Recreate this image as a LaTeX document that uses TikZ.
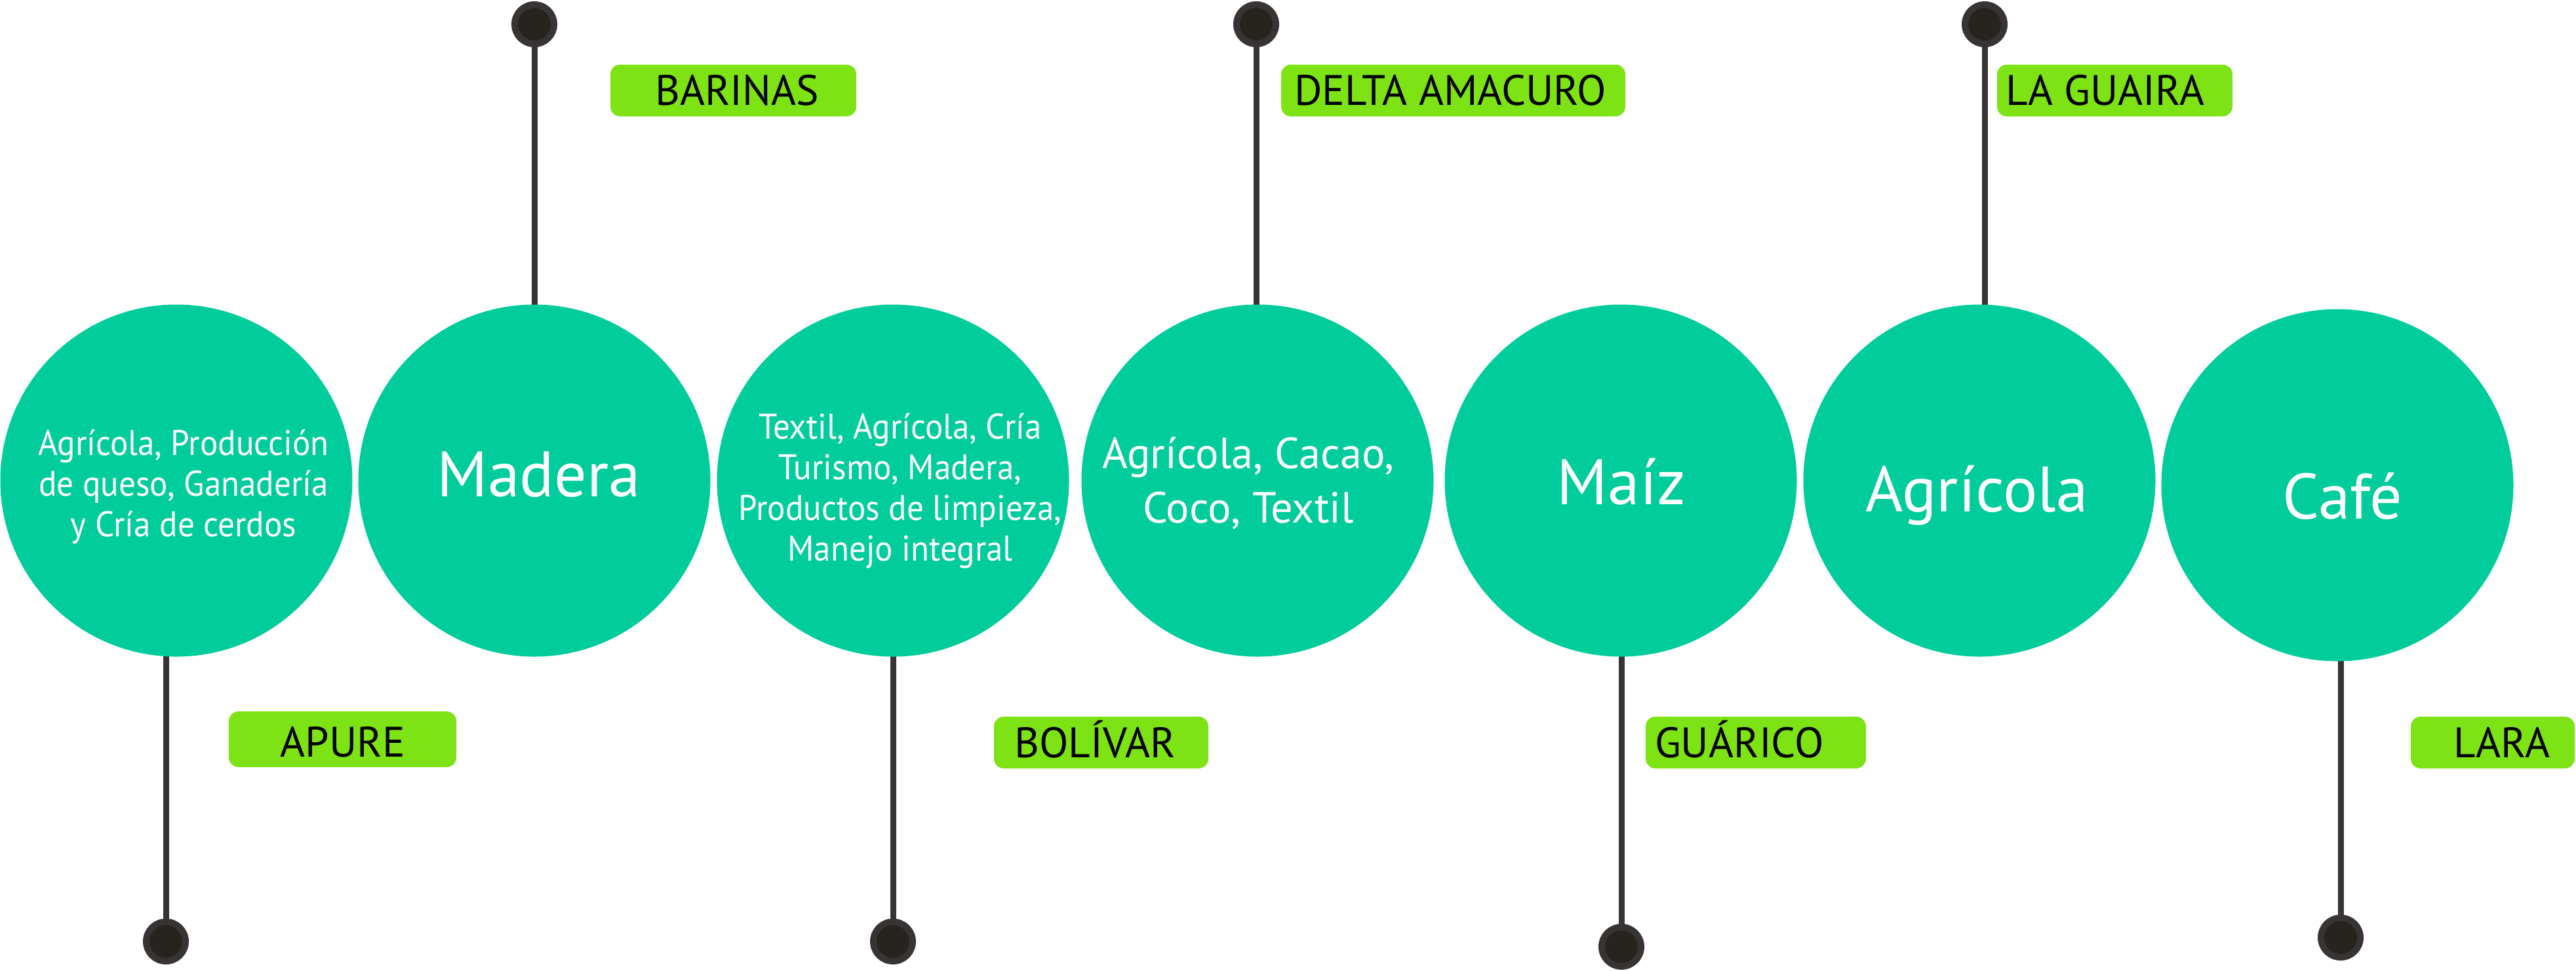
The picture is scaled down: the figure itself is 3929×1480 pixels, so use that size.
\documentclass[tikz,border=0pt]{standalone}
\usepackage{fontspec}
\setmainfont{PT Sans}
\newfontfamily\narrowpt[FakeStretch=0.94]{PT Sans}
\usetikzlibrary{backgrounds}
\definecolor{teal1}{HTML}{00CC9C}
\definecolor{lime1}{HTML}{7DE315}
\definecolor{ring1}{HTML}{383434}
\definecolor{core1}{HTML}{26241F}
\begin{document}
\begin{tikzpicture}[x=0.25pt,y=-0.25pt,
  bubble/.style={circle,fill=teal1,minimum size=134.25pt,inner sep=0pt,outer sep=0pt},
  pin/.style={circle,fill=core1,draw=ring1,line width=2.5pt,minimum size=15pt,inner sep=0pt},
  conn/.style={draw=ring1,line width=2.25pt},
  tagbox/.style={fill=lime1,rounded corners=3.75pt,minimum height=19.75pt,inner sep=0pt},
  tagtext/.style={text=black,font=\fontsize{16.25}{19}\selectfont,text height=11.4pt,text depth=0pt,inner sep=0pt},
  small/.style={text=white,align=center,font=\narrowpt\fontsize{13.6}{15.5}\selectfont,inner sep=0pt},
  medium/.style={text=white,align=center,font=\fontsize{16.6}{20.75}\selectfont,inner sep=0pt},
  big/.style={text=white,font=\fontsize{24.5}{29}\selectfont,inner sep=0pt,anchor=base},
]
\useasboundingbox (0,0) rectangle (3929,1480);
% bubbles
\node[bubble] (c1) at (269,733) {};
\node[bubble] (c2) at (815,733) {};
\node[bubble] (c3) at (1362,733) {};
\node[bubble] (c4) at (1918,733) {};
\node[bubble] (c5) at (2472,733) {};
\node[bubble] (c6) at (3019,733) {};
\node[bubble] (c7) at (3565,740) {};
% pins
\node[pin] (d1) at (253,1436) {};
\node[pin] (d2) at (815,37) {};
\node[pin] (d3) at (1362,1436) {};
\node[pin] (d4) at (1916,37) {};
\node[pin] (d5) at (2473,1444) {};
\node[pin] (d6) at (3027,37) {};
\node[pin] (d7) at (3570,1430) {};
% connectors
\begin{scope}[on background layer]
\draw[conn] (d1.center) -- (d1 |- c1.center);
\draw[conn] (d2.center) -- (d2 |- c2.center);
\draw[conn] (d3.center) -- (d3 |- c3.center);
\draw[conn] (d4.center) -- (d4 |- c4.center);
\draw[conn] (d5.center) -- (d5 |- c5.center);
\draw[conn] (d6.center) -- (d6 |- c6.center);
\draw[conn] (d7.center) -- (d7 |- c7.center);
\end{scope}
% bubble texts
\node[small] (t1) at (280,742) {Agrícola, Producción\\de queso, Ganadería\\y Cría de cerdos};
\node[big] (t2) at (822,757) {Madera};
\node[small] (t3) at (1373,749) {Textil, Agrícola, Cría\\Turismo, Madera,\\Productos de limpieza,\\Manejo integral};
\node[medium] (t4) at (1904,737) {Agrícola, Cacao,\\Coco, Textil};
\node[big] (t5) at (2473,769) {Maíz};
\node[big] (t6) at (3015,780) {Agrícola};
\node[big] (t7) at (3573,791) {Café};
% tags
\node[tagbox,minimum width=86.75pt,minimum height=21.25pt] (b1) at (522.5,1127.5) {};
\node[tagtext] (l1) at (523,1132) {APURE};
\node[tagbox,minimum width=93.75pt] (b2) at (1118.5,138) {};
\node[tagtext] (l2) at (1124,138) {BARINAS};
\node[tagbox,minimum width=81.75pt] (b3) at (1679.5,1132.5) {};
\node[tagtext] (l3) at (1670,1132.5) {BOLÍVAR};
\node[tagbox,minimum width=131.25pt] (b4) at (2216.5,138) {};
\node[tagtext] (l4) at (2212,138) {DELTA AMACURO};
\node[tagbox,minimum width=84pt] (b5) at (2678,1132.5) {};
\node[tagtext] (l5) at (2653,1132.5) {GUÁRICO};
\node[tagbox,minimum width=89.75pt] (b6) at (3225.5,138) {};
\node[tagtext] (l6) at (3211,138) {LA GUAIRA};
\node[tagbox,minimum width=62.5pt] (b7) at (3802,1132.5) {};
\node[tagtext] (l7) at (3816,1132.5) {LARA};
\end{tikzpicture}
\end{document}
